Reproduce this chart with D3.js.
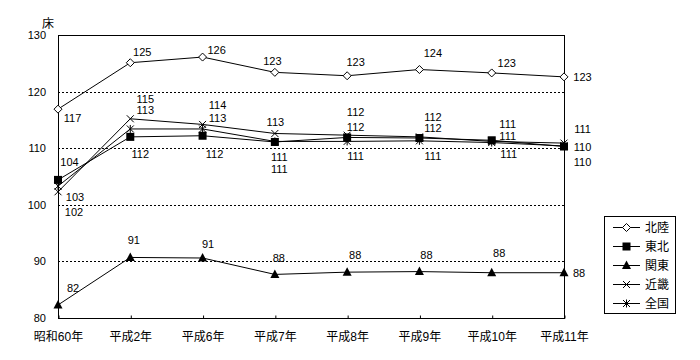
<!DOCTYPE html>
<html>
<head>
  <meta charset="UTF-8">
  <style>
    body { margin: 0; background: #fff; }
    svg text { font-family: "Liberation Sans", "Noto Sans CJK JP", sans-serif; font-size: 11px; fill: #000; }
    .jp { font-size: 12px; }
  </style>
  <script src="https://d3js.org/d3.v7.min.js"></script>
</head>
<body>
<svg id="chart" width="700" height="360"></svg>
<script>
// data
var years = ["昭和60年", "平成2年", "平成6年", "平成7年", "平成8年", "平成9年", "平成10年", "平成11年"];
var hokuriku = [116.9, 125.1, 126.1, 123.4, 122.8, 123.9, 123.3, 122.6];
var tohoku   = [104.4, 112.0, 112.2, 111.1, 111.9, 111.8, 111.4, 110.3];
var kanto    = [82.3, 90.7, 90.6, 87.7, 88.1, 88.2, 88.0, 88.0];
var kinki    = [102.3, 115.2, 114.2, 112.6, 112.3, 112.0, 111.2, 110.9];
var zenkoku  = [103.3, 113.4, 113.4, 111.2, 111.2, 111.3, 111.0, 110.4];
var yTicks = [80, 90, 100, 110, 120, 130];
var seriesNames = ["北陸", "東北", "関東", "近畿", "全国"];

// label offsets from each point (hand placed like the original)
var labelOff = {
  "北陸": [[14.5,9],[12,-10.7],[14,-7.3],[-2.5,-11.6],[8.5,-14],[13.5,-16.3],[15,-10],[18.5,0]],
  "東北": [[11.5,-18.2],[10,17.1],[12,18.3],[4.5,14.7],[8.5,-10.2],[13.5,-9.7],[16,-4.3],[18.5,0.8]],
  "関東": [[15,-16.7],[3.5,-17.3],[5.5,-13.6],[4,-16.1],[8,-16.9],[7,-16.6],[7.5,-19.4],[15,0]],
  "近畿": [[16,20],[15,-19.8],[15,-19.4],[0.5,-11.8],[8.5,-23.5],[13.5,-20.2],[16,-17.4],[18.5,-13.8]],
  "全国": [[17,10.9],[15,-19],[15,-10.7],[4.5,27.9],[8.5,14.3],[13.5,15.2],[17,11.5],[18.5,15.8]]
};

var markers = ["diamond", "square", "triangle", "x", "star"];
var series = [hokuriku, tohoku, kanto, kinki, zenkoku].map(function(v, i) {
  return {name: seriesNames[i], values: v, marker: markers[i]};
});

var svg = d3.select("#chart");
var pLeft = 58, pRight = 564, pTop = 35, pBottom = 318;

var x = d3.scalePoint().domain(years).range([pLeft, pRight]).padding(0);
var y = d3.scaleLinear().domain([80, 130]).range([pBottom, pTop]);

// gridlines
svg.append("g")
  .selectAll("line")
  .data(yTicks.filter(function(d){ return d > 80 && d < 130; }))
  .enter().append("line")
  .attr("x1", pLeft).attr("x2", pRight)
  .attr("y1", function(d){ return Math.round(y(d)) + 0.5; })
  .attr("y2", function(d){ return Math.round(y(d)) + 0.5; })
  .attr("stroke", "#000").attr("stroke-dasharray", "2,2");

// frame
svg.append("rect")
  .attr("x", pLeft + 0.5).attr("y", pTop + 0.5)
  .attr("width", pRight - pLeft).attr("height", pBottom - pTop)
  .attr("fill", "none").attr("stroke", "#000");

// y axis labels
var yAxis = svg.append("g")
  .attr("transform", "translate(" + pLeft + ",0)")
  .call(d3.axisLeft(y).tickValues(yTicks).tickSize(0).tickPadding(12));
yAxis.select(".domain").remove();
yAxis.attr("font-family", null).attr("font-size", null);

svg.append("text").attr("class", "jp").attr("x", 48).attr("y", 28).attr("text-anchor", "middle").text("床");

// x axis
var xAxis = svg.append("g")
  .attr("transform", "translate(0," + (pBottom + 0.5) + ")")
  .call(d3.axisBottom(x).tickSize(-3).tickPadding(14));
xAxis.select(".domain").remove();
xAxis.attr("font-family", null).attr("font-size", null);
xAxis.selectAll("text").attr("class", "jp");
xAxis.selectAll("line").attr("transform", "translate(0.5,0)");

var line = d3.line()
  .x(function(d, i){ return x(years[i]); })
  .y(function(d){ return y(d); });

function drawMarker(g, type) {
  if (type === "diamond") {
    g.append("path").attr("d", "M0,-4L4,0L0,4L-4,0Z").attr("fill", "#fff").attr("stroke", "#000");
  } else if (type === "square") {
    g.append("rect").attr("x", -4).attr("y", -4).attr("width", 8).attr("height", 8).attr("fill", "#000");
  } else if (type === "triangle") {
    g.append("path").attr("d", "M0,-5L4.5,3.5L-4.5,3.5Z").attr("fill", "#000");
  } else if (type === "x") {
    g.append("path").attr("d", "M-3.5,-3.5L3.5,3.5M-3.5,3.5L3.5,-3.5").attr("stroke", "#000").attr("fill", "none");
  } else if (type === "star") {
    g.append("path").attr("d", "M-3.5,-3.5L3.5,3.5M-3.5,3.5L3.5,-3.5M0,-4L0,4").attr("stroke", "#000").attr("fill", "none");
  }
}

series.forEach(function(s) {
  svg.append("path")
    .datum(s.values)
    .attr("d", line)
    .attr("fill", "none")
    .attr("stroke", "#000")
    .attr("stroke-width", 1);
});

series.forEach(function(s) {
  s.values.forEach(function(v, i) {
    var g = svg.append("g").attr("transform", "translate(" + x(years[i]) + "," + y(v) + ")");
    drawMarker(g, s.marker);
  });
});

series.forEach(function(s) {
  svg.append("g").selectAll("text")
    .data(s.values)
    .enter().append("text")
    .attr("x", function(d, i){ return x(years[i]) + labelOff[s.name][i][0]; })
    .attr("y", function(d, i){ return y(d) + labelOff[s.name][i][1]; })
    .attr("dy", "0.36em")
    .attr("text-anchor", "middle")
    .text(function(d){ return Math.round(d); });
});

// legend
var legend = svg.append("g");
legend.append("rect")
  .attr("x", 604.5).attr("y", 216.5).attr("width", 71).attr("height", 97)
  .attr("fill", "#fff").attr("stroke", "#000");
series.forEach(function(s, i) {
  var ly = 227.5 + i * 19;
  legend.append("line").attr("x1", 613).attr("x2", 640).attr("y1", ly).attr("y2", ly).attr("stroke", "#000");
  drawMarker(legend.append("g").attr("transform", "translate(626.5," + ly + ")"), s.marker);
  legend.append("text").attr("class", "jp").attr("x", 645).attr("y", ly).attr("dy", "0.36em").text(s.name);
});
</script>
</body>
</html>
